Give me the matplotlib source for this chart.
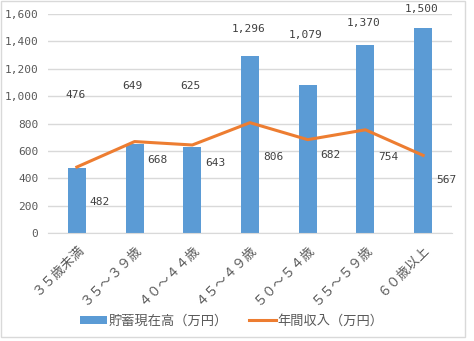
import matplotlib.pyplot as plt
from matplotlib.patches import Rectangle
import numpy as np

# 年齢階級別の貯蓄現在高と年間収入（万円）
kategorie = ["３５歳未満", "３５～３９歳", "４０～４４歳", "４５～４９歳",
             "５０～５４歳", "５５～５９歳", "６０歳以上"]
chochiku = [476, 649, 625, 1296, 1079, 1370, 1500]
shunyu = [482, 668, 643, 806, 682, 754, 567]

# etykiety wartości (położenie w jednostkach osi y)
chochiku_lab_y = [1008, 1074, 1074, 1490, 1447, 1534, 1636]
shunyu_lab_y = [226, 533, 511, 555, 570, 555, 387]

jp = ['Noto Sans CJK JP', 'DejaVu Sans']
num = 'DejaVu Sans Mono'
szary = '#595959'

fig = plt.figure(figsize=(4.74, 3.41), dpi=100)
fig.patches.append(Rectangle((0.5 / 474, 1 - 337 / 341), 464 / 474, 336 / 341,
                             transform=fig.transFigure, fill=False,
                             edgecolor='#D9D9D9', linewidth=1))

ax = fig.add_axes([48 / 474, 1 - 233 / 341, 404 / 474, 219 / 341])
x = np.arange(len(kategorie))

b = ax.bar(x, chochiku, width=0.31, color='#5B9BD5', zorder=2, label="貯蓄現在高（万円）")
l, = ax.plot(x, shunyu, color='#ED7D31', linewidth=2.2, zorder=3, label="年間収入（万円）")

for i in range(len(x)):
    ax.text(x[i] - 0.03, chochiku_lab_y[i], f"{chochiku[i]:,}", ha='center', va='center',
            fontsize=8, family=num, color='#404040', zorder=4)
    ax.text(x[i] + 0.4, shunyu_lab_y[i], f"{shunyu[i]:,}", ha='center', va='center',
            fontsize=8, family=num, color='#404040', zorder=4)

ax.set_xlim(-0.5, len(x) - 0.5)
ax.set_ylim(0, 1600)
ax.set_yticks(range(0, 1601, 200))
ax.set_yticklabels([f"{v:,}" for v in range(0, 1601, 200)], family=num, fontsize=8, color=szary)
ax.set_xticks(x)
ax.set_xticklabels(kategorie, rotation=45, ha='right', rotation_mode='anchor',
                   family=jp, fontsize=9.5, color=szary)
ax.tick_params(axis='both', length=0, pad=7)
ax.grid(axis='y', color='#D9D9D9', linewidth=1, zorder=0)
ax.set_axisbelow(True)
for s in ['top', 'right', 'left']:
    ax.spines[s].set_visible(False)
ax.spines['bottom'].set_color('#D9D9D9')

fig.legend(handles=[b, l], loc='center', bbox_to_anchor=(232 / 474, 1 - 321 / 341),
           ncol=2, frameon=False, prop={'family': jp, 'size': 9.5}, labelcolor=szary,
           handlelength=2.0, handleheight=0.6, columnspacing=1.6, handletextpad=0.15)

plt.savefig('out.png', dpi=100)
